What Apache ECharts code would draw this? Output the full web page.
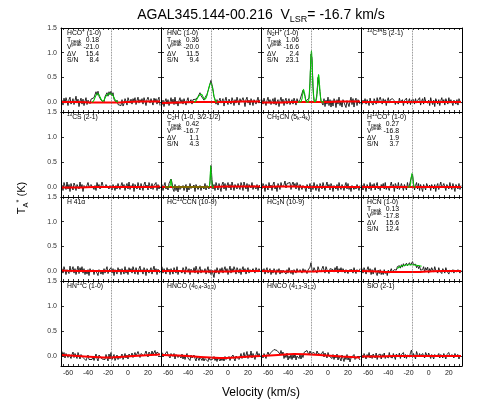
<!DOCTYPE html>
<html><head><meta charset="utf-8">
<script src="https://cdn.jsdelivr.net/npm/echarts@6/dist/echarts.min.js"></script>
<style>html,body{margin:0;padding:0;background:#fff}#c{width:490px;height:420px}</style>
</head><body><div id="c"></div>
<script>
// ---------------- data ----------------
const vLSR = -16.7;
const velStart = -66, velStep = 1;            // spectral channel grid (km/s)
const xTickLabels = [-60, -40, -20, 0, 20];
const xTickMarks = [-65,-60,-55,-50,-45,-40,-35,-30,-25,-20,-15,-10,-5,0,5,10,15,20,25,30];
const yTickLabels = [0, 0.5, 1.0, 1.5];
const baseV = [-66, -50, -34, -18, -2, 14, 32];   // baseline sample velocities

const lineLabels = [
  'HCO{sup|+} (1-0)', 'HNC (1-0)', 'N{sub|2}H{sup|+} (1-0)', '{sup|13}C{sup|34}S (2-1)',
  '{sup|13}CS (2-1)', 'C{sub|2}H (1-0, 3/2-1/2)', 'CH{sub|3}CN (5{sub|k}-4{sub|k})', 'H{sup|13}CO{sup|+} (1-0)',
  'H 41\u03b1', 'HC{sup|13}CCN (10-9)', 'HC{sub|3}N (10-9)', 'HCN (1-0)',
  'HN{sup|13}C (1-0)', 'HNCO (4{sub|0,4}-3{sub|0,3})', 'HNCO (4{sub|1,3}-3{sub|1,2})', 'SiO (2-1)'
];
const statNames = ['T{sub|peak}', 'V{sup|peak}', '\u0394V', 'S/N'];
const statHCO = ['0.18', '-21.0', '15.4', '8.4'];
const statHNC = ['0.36', '-20.0', '11.5', '9.4'];
const statN2H = ['1.06', '-16.6', '2.4', '23.1'];
const statC2H = ['0.42', '-16.7', '1.1', '4.3'];
const statH13CO = ['0.27', '-16.8', '1.9', '3.7'];
const statHCN = ['0.13', '-17.8', '15.6', '12.4'];

// spectra, in units of 0.01 K, channels -66 ... 32 km/s
const sHCO = [4,-6,8,-2,9,2,-7,5,10,-4, 1,7,-5,3,12,-2,6,-9,2,8, -4,6,-7,2,9,-5,4,0,-3,6, 2,6,9,13,21,14,22,12,13,4, 0,6,-1,11,10,19,12,21,15,22, 13,19,6,8,-1,4,-5,-9,-2,-7, 5,-8,-3,7,2,-6,9,3,-2,6, -4,7,2,9,-5,3,10,-2,5,0, 7,-4,9,2,-7,5,10,3,-2,7, 3,-6,8,2,7,-4,5,10,-7];
const sHNC = [-6,4,-9,2,7,-4,5,-7,0,9, -2,6,-5,10,-4,2,-8,3,9,-2, 5,-4,7,0,-6,3,9,-2,2,5, -4,5,1,3,6,10,11,15,19,13, 17,9,4,9,6,16,20,29,37,44, 35,26,11,6,-4,5,-6,3,8,-2, -2,7,-8,3,10,0,-5,6,2,-4, 9,3,-7,5,-2,10,2,-6,7,0, -4,9,2,-9,5,10,-2,4,-6,7, 2,-7,5,9,-4,3,10,-2,5];
const sN2H = [5,-4,8,0,-7,3,10,-2,5,-5, 2,7,-4,9,-6,0,5,-9,3,10, -2,6,-7,3,8,-4,2,7,-5,0, 5,-4,8,2,-6,7,0,-4,5,3, 9,24,28,12,2,-2,3,8,41,97, 89,31,4,-1,4,18,50,52,21,2, 2,-6,7,-9,4,-4,10,-7,5,-10, 3,-8,7,2,-11,5,-4,10,-7,2, -10,5,8,-6,-11,3,7,-9,2,10, -5,7,-10,3,8,-7,5,2,-4];
const s13C34S = [-5,4,-2,7,-4,5,2,-7,8,0, 3,-6,7,2,-4,9,-2,5,10,3, -4,7,0,5,-7,3,9,-2,5,2, 7,10,3,-5,2,6,-4,8,0,-2, 5,-7,3,2,8,-4,0,7,-5,4, 2,5,-4,7,-2,3,0,9,-6,2, 7,-4,10,2,5,-2,4,-7,9,0, -5,4,-9,7,2,-4,5,-7,3,9, -2,5,-6,7,3,-4,9,-2,5,2, -7,4,8,-4,5,-6,7,2,-2];
const s13CS = [4,-7,9,2,-5,10,-4,5,-9,7, 0,-6,8,3,-7,5,2,-4,10,-2, 5,-9,3,7,-2,-6,9,0,-4,5, 2,7,-5,3,-7,9,0,5,-4,2, 10,3,7,-2,5,9,2,-4,3,7, -6,5,2,-7,3,-4,7,0,-5,3, 9,-2,5,-7,2,7,-4,10,-5,3, -2,7,-9,5,2,-4,9,0,-6,7, 3,-7,5,10,-2,4,-6,9,2,-4, 7,-5,3,0,9,-7,5,-4,2];
const sC2H = [5,-7,3,9,-4,2,-6,7,10,16, 9,-4,-9,5,-7,2,-10,3,-5,-2, -9,3,-7,-4,5,-10,2,-6,7,-3, 0,-7,4,-9,5,2,-5,-2,3,-7, 2,5,-4,7,-6,3,0,-4,10,43, 15,-4,5,-7,9,2,-6,7,3,-9, 5,10,-4,7,-7,3,9,-2,5,-6, 10,2,-7,5,9,-4,7,0,-5,9, 3,-7,10,2,-4,7,-9,5,3,-2, 9,-5,3,7,-4,5,-7,2,4];
const sCH3CN = [-4,7,2,-9,5,3,-6,9,-2,4, -7,5,10,-4,2,-9,7,3,-5,9, 0,-4,5,12,-2,7,10,3,9,-5, 5,10,2,7,-4,9,3,-7,5,0, -5,3,7,-2,-9,5,2,-4,7,-10, 3,-5,9,0,-7,5,3,-9,7,2, -4,9,5,-7,3,10,-2,5,-6,7, 2,-9,3,7,-4,5,-7,9,0,-5, 5,2,-7,3,9,-4,7,-5,2,-9, 3,7,-5,2,-4,5,9,-7,3];
const sH13CO = [4,-6,7,0,-9,5,2,-4,9,-7, 5,-2,7,-6,3,9,-4,2,-7,5, 0,7,-4,9,-5,2,5,-7,3,10, -2,5,-9,7,2,-4,9,-5,0,7, 3,-7,5,2,-6,9,-2,4,6,21, 26,7,-6,3,9,-4,7,-7,5,2, -9,5,3,-6,7,10,-2,4,-7,5, 9,-4,5,-9,2,7,-5,3,10,-2, -6,7,3,-7,5,2,-4,9,0,-5, 7,3,-9,5,2,-4,7,-5,3];
const sH41 = [5,-4,9,2,-7,3,7,-5,10,-2, 3,9,-4,5,-7,2,10,-5,7,0, 9,-4,5,-7,2,-6,3,-9,5,-2, -5,3,-7,2,5,-4,-9,3,0,-6, 2,-7,5,-4,3,9,-5,2,-2,7, -4,5,-9,3,0,-6,7,-2,4,-7, 5,2,-6,9,-4,3,-7,7,0,5, -4,9,2,-6,7,3,-7,5,10,-2, 3,-6,7,2,-9,5,9,-4,2,7, -6,3,10,-2,5,-7,4,0,-4];
const sHC13CCN = [9,-4,5,2,-6,7,-2,4,-7,5, 2,-6,7,3,-4,9,-7,2,5,-2, -4,7,2,-6,9,3,-2,5,-7,4, 5,-2,7,-4,10,2,-6,3,9,-4, 3,7,-2,5,-6,2,9,-4,3,-7, 2,-6,-13,3,-4,7,0,-6,5,-2, 7,-4,3,9,-2,5,-7,2,10,-4, 5,-2,9,3,-6,7,2,-4,5,-7, 3,9,-2,5,-6,2,7,-4,3,-2, -6,5,2,-4,7,3,-2,5,0];
const sHC3N = [4,-2,5,-6,2,7,-4,0,5,-7, 2,-4,5,0,-7,3,-2,5,-6,2, -4,2,5,-2,-6,3,-4,7,0,-5, 2,-7,3,0,-4,5,-2,-6,3,2, -4,5,-2,3,7,-5,2,5,8,17, 3,-2,7,2,5,-4,9,3,7,-2, 5,10,2,-4,9,3,7,-5,5,2, 9,3,-2,7,2,10,-4,5,0,7, -2,5,9,-4,3,7,-5,2,5,-2, 3,-4,7,0,-5,3,2,-2,5];
const sHCN = [5,-4,7,2,-6,3,9,-2,5,-7, 3,-6,2,7,-4,-9,2,-5,3,-7, -2,-7,3,-5,0,-9,2,-4,-7,5, -2,-6,3,6,2,9,5,11,6,13, 8,15,10,7,16,11,9,17,12,10, 19,13,9,14,7,12,5,10,2,6, 3,9,-2,7,2,8,-4,5,0,7, 3,-2,9,2,5,-4,7,0,3,-5, 5,2,-4,7,0,3,-6,2,5,-2, 3,-4,2,5,-2,3,0,-4,2];
const sHN13C = [9,1,7,-4,5,9,-3,3,7,-5, 3,8,-3,5,0,-5,7,1,-6,3, 5,-3,-7,-2,-9,-5,2,-7,-10,-3, -7,-1,-9,-3,4,-5,-10,2,-2,6, -6,-9,-2,-7,3,-4,-10,4,-6,7, -7,-2,3,-9,-4,2,-7,0,-5,-2, 4,-7,-2,5,-4,2,-6,4,0,-2, 6,-3,2,7,0,-2,9,3,-3,5, 2,7,0,5,10,3,-2,8,5,1, 10,3,7,11,1,8,4,10,3];
const sHNCO404 = [7,10,1,5,-3,9,3,7,-4,5, 9,-1,5,-6,3,7,-3,2,6,-4, 4,-6,2,-7,0,5,-4,-2,-9,2, -4,-7,2,-5,-10,0,-4,-9,-2,-6, -9,-3,-10,-5,-1,-7,-11,-2,-8,-4, -10,-6,-1,-9,-4,-11,-3,-7,-10,-4, -9,-3,-10,-1,-7,-11,-4,-1,-9,-3, -7,2,-5,-10,0,-4,3,-7,-2,5, -5,0,7,-4,2,9,-5,3,-2,10, -4,5,2,-7,3,9,-2,5,0];
const sHNCO413 = [2,-4,5,0,-5,3,8,2,-2,7, 3,9,13,9,14,11,15,8,4,11, 2,8,-5,2,-3,6,-8,0,-5,3, -7,2,-4,5,-8,0,-2,-5,3,-6, 2,-3,7,9,4,11,7,2,10,5, 9,4,7,11,2,10,5,1,7,3, 2,9,-2,6,1,-4,7,0,4,-2, -5,3,-7,1,-4,4,-8,0,-2,-10, 2,-5,-11,-1,-7,3,-8,-3,-12,-4, -1,-8,3,-7,-3,-10,0,-5,-8];
const sSiO = [2,-4,5,0,-6,3,-2,7,-4,2, -5,4,0,-4,6,-7,2,-2,4,-6, 3,-2,6,-5,0,4,-4,7,-2,2, -4,5,2,-7,4,0,-2,6,-5,3, 2,7,-4,3,-5,2,5,-2,7,12, -3,5,2,-6,9,3,-2,5,0,-4, 5,2,-4,7,3,-2,6,9,-5,3, 0,-6,3,7,-2,2,5,-4,3,0, -4,5,2,-6,3,0,7,-2,-5,3, 2,-4,5,0,-2,3,-6,2,0];

// baselines (0.01 K) at baseV
const bHCO = [0,0,-1,-1,0,1,1];
const bHNC = [-2,-1,0,0,0,1,1];
const bN2H = [-1,-1,0,0,0,1,1];
const b13C34S = [0,0,0,0,0,0,0];
const b13CS = [-1,-1,0,0,0,0,1];
const bC2H = [0,0,0,0,1,1,1];
const bCH3CN = [0,1,1,0,0,0,0];
const bH13CO = [0,0,0,0,0,0,0];
const bH41 = [1,0,0,0,0,0,0];
const bHC13CCN = [0,0,-1,-1,-1,0,0];
const bHC3N = [0,-1,-1,-1,0,0,0];
const bHCN = [0,-1,-2,-2,-1,0,0];
const bHN13C = [2,0,-2,-3,-1,1,3];
const bHNCO404 = [2,1,-1,-3,-4,-2,0];
const bHNCO413 = [0,2,4,3,1,-1,-3];
const bSiO = [-1,-1,0,0,0,0,0];

// gaussian fits [velocity, K]
const fitHCO = [[-36,0],[-35,0.01],[-34,0.04],[-33,0.09],[-32,0.14],[-31,0.17],[-30,0.17],[-29,0.15],[-28,0.11],[-27,0.06],[-26,0.03],[-25,0.02],[-24,0.04],[-23,0.08],[-22,0.12],[-21,0.15],[-20,0.16],[-19,0.17],[-18,0.17],[-17,0.17],[-16,0.16],[-15,0.13],[-14,0.09],[-13,0.05],[-12,0.02],[-11,0.01],[-10,0]];
const fitHNC = [[-34,0],[-33,0.01],[-32,0.03],[-31,0.06],[-30,0.10],[-29,0.13],[-28,0.15],[-27,0.16],[-26,0.15],[-25,0.11],[-24,0.07],[-23,0.06],[-22,0.08],[-21,0.13],[-20,0.22],[-19,0.31],[-18,0.37],[-17,0.38],[-16,0.33],[-15,0.22],[-14,0.11],[-13,0.04],[-12,0.01],[-11,0]];
const fitN2H = [[-30,0],[-27,0.01],[-26.5,0.02],[-26,0.06],[-25.5,0.13],[-25,0.21],[-24.5,0.26],[-24,0.26],[-23.5,0.20],[-23,0.12],[-22.5,0.05],[-22,0.02],[-21,0],[-20,0],[-19.5,0.02],[-19,0.06],[-18.5,0.17],[-18,0.39],[-17.5,0.70],[-17,0.97],[-16.5,1.04],[-16,0.88],[-15.5,0.57],[-15,0.29],[-14.5,0.12],[-14,0.04],[-13.5,0.01],[-13,0],[-12.5,0.01],[-12,0.02],[-11.5,0.06],[-11,0.16],[-10.5,0.31],[-10,0.47],[-9.5,0.56],[-9,0.52],[-8.5,0.37],[-8,0.21],[-7.5,0.09],[-7,0.03],[-6.5,0.01],[-6,0],[-4,0]];
const fitC2H = [[-63,0],[-60,0],[-58.5,0],[-58,0.02],[-57.5,0.08],[-57,0.15],[-56.5,0.08],[-56,0.02],[-55.5,0],[-45,0],[-30,0],[-19,0],[-18.5,0.01],[-18,0.12],[-17.5,0.35],[-17.25,0.42],[-17,0.39],[-16.5,0.16],[-16,0.02],[-15.5,0],[-14,0]];
const fitH13CO = [[-21,0],[-19,0],[-18.5,0.01],[-18,0.05],[-17.5,0.14],[-17,0.23],[-16.5,0.27],[-16,0.23],[-15.5,0.14],[-15,0.05],[-14.5,0.01],[-14,0],[-13,0]];
const fitHCN = [[-31,0.05],[-29,0.08],[-27,0.10],[-25,0.115],[-23,0.12],[-21,0.125],[-19,0.13],[-17,0.13],[-15,0.125],[-13,0.12],[-11,0.115],[-9,0.11],[-7,0.10]];

const spectra = [sHCO, sHNC, sN2H, s13C34S, s13CS, sC2H, sCH3CN, sH13CO, sH41, sHC13CCN, sHC3N, sHCN, sHN13C, sHNCO404, sHNCO413, sSiO];
const baselines = [bHCO, bHNC, bN2H, b13C34S, b13CS, bC2H, bCH3CN, bH13CO, bH41, bHC13CCN, bHC3N, bHCN, bHN13C, bHNCO404, bHNCO413, bSiO];
const fits = [fitHCO, fitHNC, fitN2H, null, null, fitC2H, null, fitH13CO, null, null, null, fitHCN, null, null, null, null];
const stats = [statHCO, statHNC, statN2H, null, null, statC2H, null, statH13CO, null, null, null, statHCN, null, null, null, null];

// ---------------- layout ----------------
const colX = [61, 161, 261, 361, 462];
const rowY = [28, 112, 197, 281, 366];
const FONT = '"Liberation Sans", Arial, Helvetica, sans-serif';
const TS = 6.8;

function rich(size) {
  return {
    sup: { fontSize: size * 0.68, lineHeight: size * 0.6, verticalAlign: 'top', fontFamily: FONT, fill: '#000' },
    sub: { fontSize: size * 0.68, lineHeight: size * 0.6, verticalAlign: 'bottom', fontFamily: FONT, fill: '#000' }
  };
}
function txt(x, y, text, size, align) {
  return {
    type: 'text', x: x, y: y, silent: true, z: 100,
    style: {
      text: text, fontSize: size, fontFamily: FONT, fill: '#000',
      lineHeight: size * 1.3, align: align || 'left', verticalAlign: 'middle',
      rich: rich(size)
    }
  };
}

const grids = [], xAxes = [], yAxes = [], series = [], graphics = [];
for (let r = 0; r < 4; r++) {
  for (let c = 0; c < 4; c++) {
    const gi = r * 4 + c;
    grids.push({ left: colX[c], top: rowY[r], width: colX[c + 1] - colX[c], height: rowY[r + 1] - rowY[r] });
    const axLine = { show: true, onZero: false, lineStyle: { color: '#000', width: 1 } };
    ['bottom', 'top'].forEach(pos => {
      xAxes.push({
        type: 'value', gridIndex: gi, min: -67, max: 33, position: pos,
        axisLine: axLine,
        axisTick: { show: true, inside: true, length: 2, customValues: xTickMarks, lineStyle: { color: '#000', width: 0.8 } },
        axisLabel: { show: pos === 'bottom' && r === 3, customValues: xTickLabels, fontSize: 7, color: '#222', margin: 4, fontFamily: FONT },
        splitLine: { show: false }
      });
    });
    ['left', 'right'].forEach(pos => {
      yAxes.push({
        type: 'value', gridIndex: gi, min: -0.2, max: 1.5, position: pos,
        axisLine: axLine,
        axisTick: { show: true, inside: true, length: 3, customValues: yTickLabels, lineStyle: { color: '#000', width: 0.8 } },
        axisLabel: { show: pos === 'left' && c === 0, customValues: yTickLabels, fontSize: 7, color: '#333', margin: 4, fontFamily: FONT,
          formatter: v => Number(v).toFixed(1) },
        splitLine: { show: false }
      });
    });
    const xi = 2 * gi, yi = 2 * gi;
    series.push({
      type: 'line', xAxisIndex: xi, yAxisIndex: yi, symbol: 'none', silent: true, z: 2,
      data: spectra[gi].map((t, i) => [velStart + i * velStep, t / 100]),
      lineStyle: { color: '#111', width: 0.9 },
      markLine: { silent: true, symbol: ['none', 'none'], label: { show: false },
        lineStyle: { type: 'dotted', color: '#666', width: 0.8 }, data: [{ xAxis: vLSR }] }
    });
    series.push({
      type: 'line', xAxisIndex: xi, yAxisIndex: yi, symbol: 'none', silent: true, z: 3, smooth: 0.5,
      data: baseV.map((v, i) => [v, baselines[gi][i] / 100]),
      lineStyle: { color: '#ff0000', width: 2 }
    });
    if (fits[gi]) {
      series.push({
        type: 'line', xAxisIndex: xi, yAxisIndex: yi, symbol: 'none', silent: true, z: 4,
        smooth: 0.35, smoothMonotone: 'x',
        data: fits[gi], lineStyle: { color: '#00cc00', width: 1.1 }
      });
    }
    // panel texts
    const x0 = colX[c] + 6, y0 = rowY[r] + 5, dy = 6.9;
    graphics.push(txt(x0, y0, lineLabels[gi], TS));
    if (stats[gi]) {
      for (let k = 0; k < 4; k++) {
        graphics.push(txt(x0, y0 + (k + 1) * dy, statNames[k], TS));
        graphics.push(txt(colX[c] + 38, y0 + (k + 1) * dy, stats[gi][k], TS, 'right'));
      }
    }
  }
}
// main title and axis titles
graphics.push({
  type: 'text', x: 261, y: 15, silent: true, z: 100,
  style: { text: 'AGAL345.144-00.216  V{s|LSR}= -16.7 km/s', fontSize: 14, fontFamily: FONT, fill: '#000',
    lineHeight: 19, align: 'center', verticalAlign: 'middle',
    rich: { s: { fontSize: 9, lineHeight: 4, verticalAlign: 'bottom', fontFamily: FONT, fill: '#000' } } }
});
graphics.push({
  type: 'text', x: 261, y: 393, silent: true, z: 100,
  style: { text: 'Velocity (km/s)', fontSize: 12, fontFamily: FONT, fill: '#000', align: 'center', verticalAlign: 'middle' }
});
graphics.push({
  type: 'text', x: 22, y: 198, rotation: Math.PI / 2, silent: true, z: 100,
  style: { text: 'T{sub|A}{sup|*} (K)', fontSize: 11, fontFamily: FONT, fill: '#000', lineHeight: 14,
    align: 'center', verticalAlign: 'middle', rich: rich(11) }
});

const chart = echarts.init(document.getElementById('c'), null, { renderer: 'canvas' });
chart.setOption({
  animation: false,
  backgroundColor: '#fff',
  grid: grids, xAxis: xAxes, yAxis: yAxes, series: series,
  graphic: { elements: graphics }
});
</script></body></html>
